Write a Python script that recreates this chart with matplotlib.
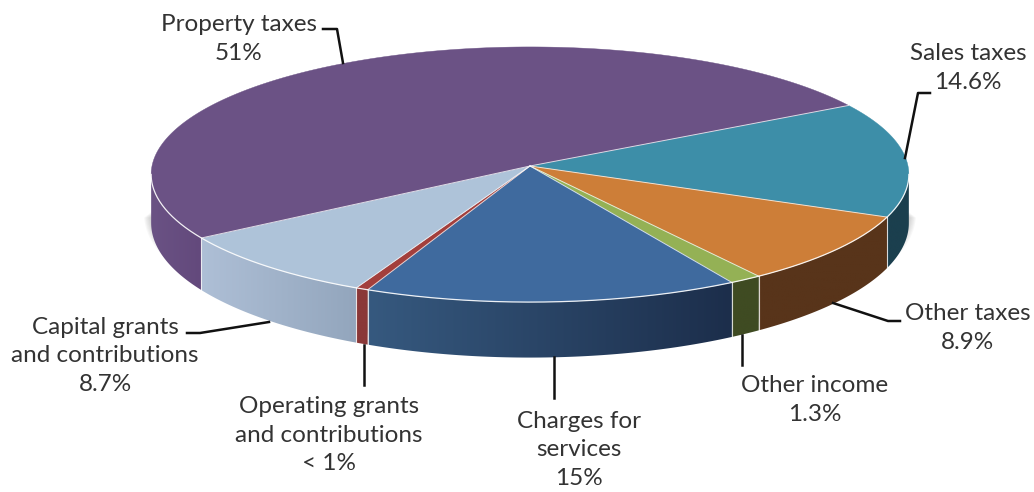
import matplotlib
matplotlib.use('Agg')
import matplotlib.pyplot as plt
import numpy as np
from matplotlib.colors import to_rgb
from matplotlib.patches import Polygon

plt.rcParams['font.family'] = ['Lato', 'DejaVu Sans']

# clockwise from the start angle
names = ['Sales taxes', 'Other taxes', 'Other income', 'Charges for services',
         'Operating grants and contributions', 'Capital grants and contributions',
         'Property taxes']
values = [14.6, 8.9, 1.3, 15, 0.5, 8.7, 51]
labels = ['Sales taxes\n14.6%', 'Other taxes\n8.9%', 'Other income\n1.3%',
          'Charges for\nservices\n15%', 'Operating grants\nand contributions\n< 1%',
          'Capital grants\nand contributions\n8.7%', 'Property taxes\n51%']

top_colors = ['#3d8ea8', '#cd7e38', '#94b155', '#3f6a9e', '#a33f3c', '#aec3d9', '#6b5285']
side_left = ['#1b3f4e', '#58341a', '#3f4b22', '#36597f', '#8a3838', '#aebfd6', '#6a5284']
side_right = ['#1b3f4e', '#58341a', '#3f4b22', '#1c2e4b', '#8a3838', '#93a6bd', '#63497c']

label_xy = [(968, 68), (968, 328), (815, 400), (579, 450), (329, 435), (105, 356), (239, 39)]
leaders = [
    [(930, 93), (918, 93), (905, 158)],
    [(900, 321), (888, 321), (833, 303)],
    [(742, 335), (742, 365)],
    [(554, 357), (554, 398)],
    [(364, 345), (364, 385)],
    [(187, 333), (200, 333), (269, 322)],
    [(323, 29), (337, 29), (343, 63)],
]

start_angle = 29.5
cx, cy = 530, 166
rx, ry, persp = 378, 127, 0.0667


def top_edge(t):
    # circle seen in perspective, t in degrees
    t = np.radians(t)
    w = 1 + persp * np.sin(t)
    return cx + rx * np.cos(t) / w, cy - ry * np.sin(t) / w


def bottom_edge(t):
    x, y = top_edge(t)
    return x, y + 48 - 7.5 * np.sin(np.radians(t))


def stack(xy):
    return np.column_stack(xy)


fig = plt.figure(figsize=(10.34, 4.92), dpi=100)
ax = fig.add_axes([0, 0, 1, 1])

bounds = start_angle - np.cumsum([0] + values) * 3.6
front_lo, front_hi = -176.2, -3.8

# soft shadow hugging the lower rim
rim = np.linspace(-175, -5, 200)
for grow in np.linspace(1, 7, 7):
    bx, by = bottom_edge(rim)
    sx = cx + (bx - cx) * (1 + grow / 378)
    sy = by - 14 + grow * 0.8
    ax.add_patch(Polygon(stack((sx, sy)), closed=True, fc='#404040', ec='none', alpha=0.04))

# side wall, one gradient-filled piece per slice
for i in range(len(values)):
    hi = min(bounds[i], front_hi)
    lo = max(bounds[i + 1], front_lo)
    if i == len(values) - 1:
        hi, lo = bounds[i], front_lo
    if hi <= lo:
        continue
    t = np.linspace(hi, lo, 80)
    pts = np.vstack([stack(top_edge(t)), stack(bottom_edge(t[::-1]))])
    wall = Polygon(pts, closed=True, fc='none', ec='none')
    ax.add_patch(wall)
    grad = np.linspace(0, 1, 128)[:, None] * np.array(to_rgb(side_right[i])) \
        + (1 - np.linspace(0, 1, 128))[:, None] * np.array(to_rgb(side_left[i]))
    im = ax.imshow(grad[None, :, :], extent=(pts[:, 0].min(), pts[:, 0].max(),
                                             pts[:, 1].max(), pts[:, 1].min()),
                   aspect='auto', interpolation='bilinear', zorder=2)
    im.set_clip_path(wall)

# top face
for i in range(len(values)):
    t = np.linspace(bounds[i], bounds[i + 1], 200)
    pts = np.vstack([[cx, cy], stack(top_edge(t))])
    ax.add_patch(Polygon(pts, closed=True, fc=top_colors[i], ec=top_colors[i], lw=0.3, zorder=3))

# thin highlights along the seams and the front rim
for b in bounds[:-1]:
    x, y = top_edge(b)
    ax.plot([cx, x], [cy, y], color='white', lw=0.7, alpha=0.75, zorder=4)
    if front_lo < b < front_hi:
        bx, by = bottom_edge(b)
        ax.plot([x, bx], [y, by], color='white', lw=0.8, alpha=0.8, zorder=4)
t = np.linspace(front_lo, front_hi, 300)
ax.plot(*top_edge(t), color='white', lw=0.9, alpha=0.9, zorder=4)

for line in leaders:
    ax.plot(*zip(*line), color='#111111', lw=1.8, zorder=5, solid_joinstyle='round')

for text, (x, y) in zip(labels, label_xy):
    ax.text(x, y, text, ha='center', va='center', fontsize=17.5, color='#333333',
            linespacing=1.45, zorder=6)

ax.set_xlim(0, 1034)
ax.set_ylim(492, 0)
ax.axis('off')

fig.savefig('out.png', dpi=100, facecolor='white')
